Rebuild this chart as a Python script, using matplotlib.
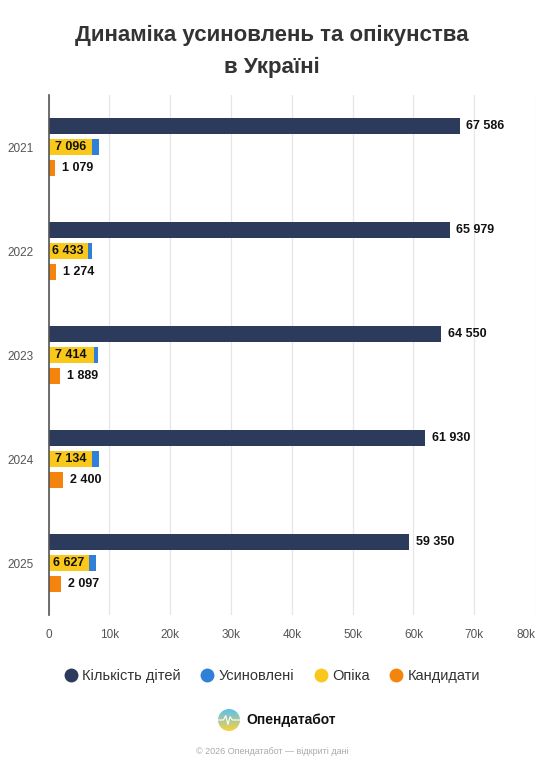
import matplotlib
matplotlib.use("Agg")
import matplotlib.pyplot as plt
import numpy as np
from matplotlib.lines import Line2D
from matplotlib.patches import Circle

plt.rcParams['font.family'] = ['Liberation Sans', 'DejaVu Sans']

years = ['2021', '2022', '2023', '2024', '2025']
children = [67586, 65979, 64550, 61930, 59350]
guardianship = [7096, 6433, 7414, 7134, 6627]
adopted = [1180, 650, 750, 1150, 1110]
candidates = [1079, 1274, 1889, 2400, 2097]
xticks = [0, 10000, 20000, 30000, 40000, 50000, 60000, 70000, 80000]
xtick_labels = ['0', '10k', '20k', '30k', '40k', '50k', '60k', '70k', '80k']
series_names = ['Кількість дітей', 'Усиновлені', 'Опіка', 'Кандидати']

C_NAVY = '#2c3b5b'
C_BLUE = '#2f80d6'
C_YEL = '#fac81a'
C_ORG = '#f5840f'

def fmt(v):
    return f"{v:,}".replace(',', ' ')

fig = plt.figure(figsize=(5.44, 7.70), dpi=100)
ax = fig.add_axes([0.0895, 0.2013, 0.894, 0.6753])

y = np.arange(len(years))
h = 0.15
off = 0.2

ax.barh(y - off, children, height=h, color=C_NAVY, zorder=3)
ax.barh(y, guardianship, height=h, color=C_YEL, zorder=3)
ax.barh(y, adopted, left=guardianship, height=h, color=C_BLUE, zorder=3)
ax.barh(y + off, candidates, height=h, color=C_ORG, zorder=3)

for i in range(len(years)):
    ax.text(children[i] + 1100, y[i] - off, fmt(children[i]), va='center', ha='left',
            fontsize=9, fontweight='bold', color='#111111', zorder=4)
    ax.text(guardianship[i] / 2, y[i], fmt(guardianship[i]), va='center', ha='center',
            fontsize=9, fontweight='bold', color='#111111', zorder=4)
    ax.text(candidates[i] + 1100, y[i] + off, fmt(candidates[i]), va='center', ha='left',
            fontsize=9, fontweight='bold', color='#111111', zorder=4)

ax.set_xlim(0, 80000)
ax.set_ylim(len(years) - 0.5, -0.5)
ax.set_yticks(y)
ax.set_yticklabels(years)
ax.set_xticks(xticks)
ax.set_xticklabels(xtick_labels)
labs = ax.get_xticklabels()
labs[-1].set_ha('right')
ax.tick_params(axis='x', length=0, pad=10, labelsize=8.5, labelcolor='#555555')
ax.tick_params(axis='y', length=0, pad=11, labelsize=8.5, labelcolor='#555555')
ax.grid(axis='x', color='#e6e6e6', linewidth=0.9, zorder=0)
for s in ['top', 'right', 'bottom']:
    ax.spines[s].set_visible(False)
ax.spines['left'].set_color('#555555')
ax.spines['left'].set_linewidth(1.2)
ax.spines['left'].set_zorder(5)

fig.text(0.5, 1 - 35 / 770, 'Динаміка усиновлень та опікунства', ha='center', va='center',
         fontsize=16, fontweight='bold', color='#333333')
fig.text(0.5, 1 - 67 / 770, 'в Україні', ha='center', va='center',
         fontsize=16, fontweight='bold', color='#333333')

handles = [Line2D([0], [0], marker='o', linestyle='none', markersize=10, markerfacecolor=c,
                  markeredgewidth=0) for c in [C_NAVY, C_BLUE, C_YEL, C_ORG]]
fig.legend(handles, series_names, loc='center', bbox_to_anchor=(0.5, 1 - 676 / 770),
           ncol=4, frameon=False, fontsize=10.5, handletextpad=0.3, columnspacing=1.3,
           handlelength=1.0, labelcolor='#333333')

# logo
lax = fig.add_axes([(229 - 11) / 544, 1 - (720 + 11) / 770, 22 / 544, 22 / 770])
grad = np.linspace(0, 1, 100)[:, None] * np.ones((1, 100))
top = np.array([0.35, 0.75, 0.95])
bot = np.array([0.98, 0.82, 0.25])
img = top[None, None, :] * (1 - grad[..., None]) + bot[None, None, :] * grad[..., None]
im = lax.imshow(img, extent=[-1, 1, -1, 1], origin='upper')
circ = Circle((0, 0), 1, transform=lax.transData)
im.set_clip_path(circ)
lax.plot([-1, -0.5, -0.3, -0.1, 0.1, 0.3, 1], [0, 0, 0.4, -0.4, 0.3, 0, 0], color='white', lw=0.8,
         clip_path=circ)
lax.set_xlim(-1, 1)
lax.set_ylim(-1, 1)
lax.axis('off')

fig.text(246 / 544, 1 - 720 / 770, 'Опендатабот', ha='left', va='center', fontsize=10,
         fontweight='bold', color='#111111')
fig.text(0.5, 1 - 752 / 770, '© 2026 Опендатабот — відкриті дані', ha='center', va='center',
         fontsize=6.5, color='#aaaaaa')

fig.savefig('out.png', dpi=100, facecolor='white')
